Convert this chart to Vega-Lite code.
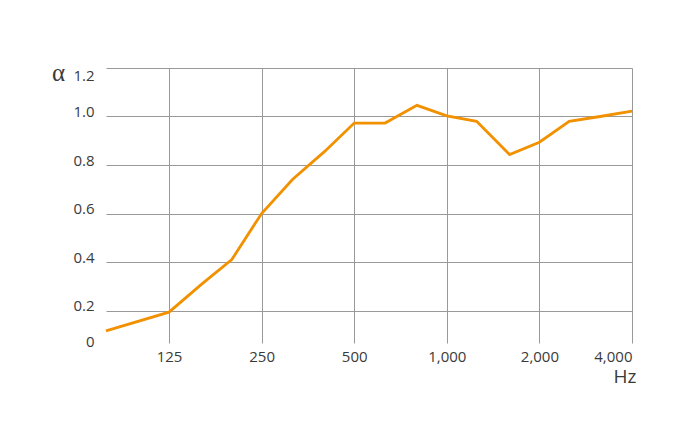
{
  "$schema": "https://vega.github.io/schema/vega-lite/v6.json",
  "autosize": "none",
  "width": 526,
  "height": 275,
  "padding": {"left": 106, "top": 68, "right": 48, "bottom": 97},
  "background": "white",
  "config": {"view": {"stroke": null}},
  "data": {
    "values": [
      {"hz": 78, "alpha": 0.075},
      {"hz": 125, "alpha": 0.19},
      {"hz": 160, "alpha": 0.31},
      {"hz": 200, "alpha": 0.41},
      {"hz": 250, "alpha": 0.6},
      {"hz": 315, "alpha": 0.74},
      {"hz": 400, "alpha": 0.855},
      {"hz": 500, "alpha": 0.973},
      {"hz": 630, "alpha": 0.973},
      {"hz": 800, "alpha": 1.046},
      {"hz": 1000, "alpha": 1.003},
      {"hz": 1250, "alpha": 0.98},
      {"hz": 1600, "alpha": 0.843},
      {"hz": 2000, "alpha": 0.894},
      {"hz": 2500, "alpha": 0.98},
      {"hz": 3150, "alpha": 1.0},
      {"hz": 4000, "alpha": 1.022}
    ]
  },
  "mark": {"type": "line", "color": "#F29100", "strokeWidth": 2.8, "clip": false},
  "encoding": {
    "x": {
      "field": "hz",
      "type": "quantitative",
      "scale": {"type": "log", "domain": [78, 4000], "nice": false},
      "axis": {
        "values": [125, 250, 500, 1000, 2000, 4000],
        "format": ",",
        "grid": true,
        "gridColor": "#999999",
        "gridWidth": 1,
        "domain": false,
        "ticks": false,
        "labelFlush": true,
        "labelPadding": 6,
        "labelFont": "Open Sans",
        "labelFontSize": 15,
        "labelColor": "#3a3a3a",
        "title": "Hz",
        "titleFont": "Open Sans",
        "titleFontSize": 19,
        "titleFontWeight": "normal",
        "titleColor": "#3a3a3a",
        "titleAlign": "right",
        "titleBaseline": "alphabetic",
        "titleX": 530,
        "titleY": 39
      }
    },
    "y": {
      "field": "alpha",
      "type": "quantitative",
      "scale": {"domain": [0, 0.2, 1.2], "range": [275, 242.5, 0], "nice": false},
      "axis": {
        "values": [0, 0.2, 0.4, 0.6, 0.8, 1.0, 1.2],
        "labelExpr": "datum.value === 0 ? '0' : format(datum.value, '.1f')",
        "grid": true,
        "gridColor": "#999999",
        "gridWidth": 1,
        "gridOpacity": {"condition": {"test": "datum.value === 0", "value": 0}, "value": 1},
        "domain": false,
        "ticks": false,
        "labelFlush": false,
        "labelPadding": 12,
        "labelFont": "Open Sans",
        "labelFontSize": 15,
        "labelColor": "#3a3a3a",
        "labelBaseline": "middle",
        "labelOffset": {"condition": [{"test": "datum.value > 1.1", "value": 7}, {"test": "datum.value < 0.1", "value": -2}], "value": -5},
        "title": "α",
        "titleFont": "Liberation Serif",
        "titleFontSize": 25,
        "titleFontWeight": "normal",
        "titleColor": "#3a3a3a",
        "titleAngle": 0,
        "titleAlign": "center",
        "titleBaseline": "alphabetic",
        "titleX": -48,
        "titleY": 12.5
      }
    }
  }
}
